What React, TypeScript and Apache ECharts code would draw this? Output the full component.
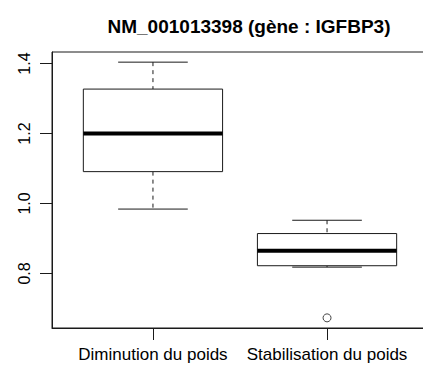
import React, { useEffect, useRef } from "react";
import * as echarts from "echarts";

const categories = ["Diminution du poids", "Stabilisation du poids"];
const lowWhisker = [0.984, 0.818];
const q1 = [1.091, 0.822];
const median = [1.2, 0.865];
const q3 = [1.327, 0.914];
const highWhisker = [1.404, 0.952];
const outlierGroup = [2];
const outlierValue = [0.673];
const yTicks = [0.8, 1.0, 1.2, 1.4];
const titleText = "NM_001013398 (gène : IGFBP3)";

const LINE = "#1a1a1a";
const FONT = "Liberation Sans";

export default function App() {
  const ref = useRef<HTMLDivElement>(null);
  useEffect(() => {
    if (!ref.current) return;
    const chart = echarts.init(ref.current, null, { renderer: "svg" });
    const boxData = categories.map((_, i) => [
      i + 1,
      lowWhisker[i],
      q1[i],
      median[i],
      q3[i],
      highWhisker[i],
    ]);
    const outData = outlierGroup.map((g, i) => [g, outlierValue[i]]);
    chart.setOption({
      animation: false,
      backgroundColor: "#fff",
      title: {
        text: titleText,
        left: 244,
        top: 12,
        textAlign: "center",
        textStyle: { fontFamily: FONT, fontWeight: "bold", fontSize: 19, color: "#000" },
      },
      grid: {
        left: 52,
        top: 52,
        right: -5,
        bottom: 37,
        show: true,
        borderColor: LINE,
        borderWidth: 1,
        outerBoundsMode: "none",
      },
      xAxis: {
        type: "value",
        min: 0.42,
        max: 2.58,
        splitLine: { show: false },
        axisLine: { show: true, lineStyle: { color: LINE } },
        axisTick: { show: true, length: 12, customValues: [1, 2], lineStyle: { color: LINE } },
        axisLabel: {
          customValues: [1, 2],
          margin: 18,
          fontFamily: FONT,
          fontSize: 17,
          color: "#000",
          formatter: (v: number) => categories[Math.round(v) - 1] ?? "",
        },
      },
      yAxis: {
        type: "value",
        min: 0.644,
        max: 1.433,
        splitLine: { show: false },
        axisLine: { show: true, lineStyle: { color: LINE } },
        axisTick: { show: true, length: 12, customValues: yTicks, lineStyle: { color: LINE } },
        axisLabel: {
          customValues: yTicks,
          rotate: 90,
          margin: 20,
          fontFamily: FONT,
          fontSize: 16,
          color: "#000",
          formatter: (v: number) => v.toFixed(1),
        },
      },
      series: [
        {
          type: "custom",
          data: boxData,
          encode: { x: 0, y: [1, 2, 3, 4, 5] },
          renderItem: (params: any, api: any) => {
            const x = api.value(0);
            const lo = api.value(1);
            const a = api.value(2);
            const m = api.value(3);
            const b = api.value(4);
            const hi = api.value(5);
            const half = 0.4;
            const capHalf = 0.2;
            const [xl, yq3] = api.coord([x - half, b]);
            const [xr, yq1] = api.coord([x + half, a]);
            const [, ym] = api.coord([x, m]);
            const [xc, yhi] = api.coord([x, hi]);
            const [, ylo] = api.coord([x, lo]);
            const [cl] = api.coord([x - capHalf, hi]);
            const [cr] = api.coord([x + capHalf, hi]);
            const thin = { stroke: LINE, lineWidth: 1 };
            const dashed = { stroke: LINE, lineWidth: 1, lineDash: [4, 4] };
            return {
              type: "group",
              children: [
                { type: "line", shape: { x1: xc, y1: yhi, x2: xc, y2: yq3 }, style: dashed },
                { type: "line", shape: { x1: xc, y1: yq1, x2: xc, y2: ylo }, style: dashed },
                { type: "line", shape: { x1: cl, y1: yhi, x2: cr, y2: yhi }, style: thin },
                { type: "line", shape: { x1: cl, y1: ylo, x2: cr, y2: ylo }, style: thin },
                {
                  type: "rect",
                  shape: { x: xl, y: yq3, width: xr - xl, height: yq1 - yq3 },
                  style: { fill: "#fff", stroke: LINE, lineWidth: 1 },
                },
                {
                  type: "line",
                  shape: { x1: xl, y1: ym, x2: xr, y2: ym },
                  style: { stroke: "#000", lineWidth: 4 },
                },
              ],
            };
          },
        },
        {
          type: "scatter",
          data: outData,
          symbol: "circle",
          symbolSize: 8,
          itemStyle: { color: "#fff", borderColor: LINE, borderWidth: 1 },
        },
      ],
    });
    return () => chart.dispose();
  }, []);
  return (
    <div
      ref={ref}
      style={{ position: "fixed", left: 0, top: 0, width: 423, height: 365 }}
    />
  );
}
